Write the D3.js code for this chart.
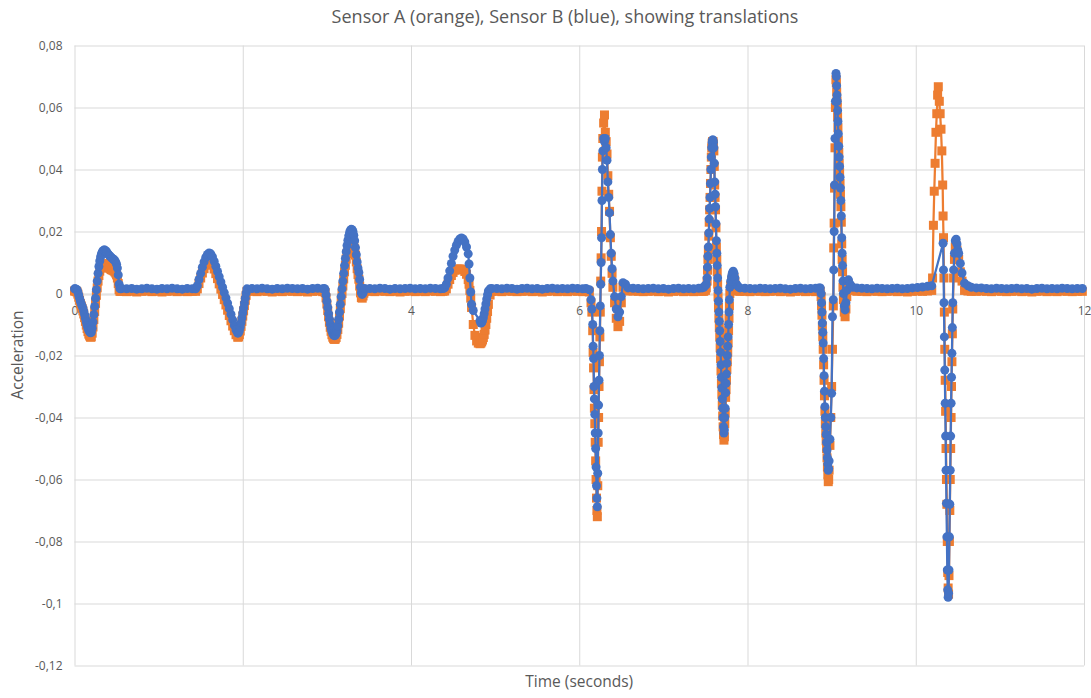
<!DOCTYPE html>
<html>
<head>
<meta charset="utf-8">
<script src="https://cdn.jsdelivr.net/npm/d3@7"></script>
<style>
  body { margin: 0; background: #ffffff; }
  text { font-family: "Open Sans", "Liberation Sans", sans-serif; }
</style>
</head>
<body>
<div id="chart"></div>
<script>
// sample times (seconds), shared by both sensors
var time = [
  // bump 1
  0.00, 0.01, 0.02, 0.03, 0.04, 0.05, 0.06, 0.07, 0.08, 0.09,
  0.10, 0.11, 0.12, 0.13, 0.14, 0.15, 0.16, 0.17, 0.18, 0.19,
  0.20, 0.21, 0.22, 0.23, 0.24, 0.25, 0.26, 0.27, 0.28, 0.29,
  0.30, 0.31, 0.32, 0.33, 0.34, 0.35, 0.36, 0.37, 0.38, 0.39,
  0.40, 0.41, 0.42, 0.43, 0.44, 0.45, 0.46, 0.47, 0.48, 0.49,
  0.50, 0.51, 0.52, 0.53, 0.54, 0.55, 0.56,
  0.62, 0.68, 0.74, 0.80, 0.86, 0.92, 0.98, 1.04, 1.10, 1.16, 1.22, 1.28, 1.34, 1.40,
  // bump 2
  1.44, 1.46, 1.48, 1.50, 1.52, 1.54, 1.56, 1.58, 1.60, 1.62,
  1.64, 1.66, 1.68, 1.70, 1.72, 1.74, 1.76, 1.78, 1.80, 1.82,
  1.84, 1.86, 1.88, 1.90, 1.92, 1.94,
  1.95, 1.96, 1.97, 1.98, 1.99, 2.00, 2.01, 2.02, 2.03, 2.04, 2.05,
  2.11, 2.17, 2.23, 2.29, 2.35, 2.41, 2.47, 2.53, 2.59, 2.65, 2.71, 2.77, 2.83, 2.89, 2.95,
  // bump 3
  2.97, 2.98, 2.99, 3.00, 3.01, 3.02, 3.03, 3.04, 3.05, 3.06,
  3.07, 3.08, 3.09, 3.10, 3.11, 3.12, 3.13, 3.14, 3.15, 3.16,
  3.17, 3.18, 3.19, 3.20, 3.21, 3.22, 3.23, 3.24, 3.25, 3.26,
  3.27, 3.28, 3.29, 3.30, 3.31, 3.32, 3.33, 3.34, 3.35, 3.36,
  3.37, 3.38, 3.39, 3.40, 3.41, 3.42, 3.43, 3.44, 3.45,
  3.51, 3.57, 3.63, 3.69, 3.75, 3.81, 3.87, 3.93, 3.99, 4.05, 4.11, 4.17, 4.23, 4.29, 4.35,
  // bump 4
  4.38, 4.40, 4.42, 4.44, 4.46, 4.48, 4.50, 4.52, 4.54, 4.56,
  4.58, 4.60, 4.62, 4.64, 4.66, 4.68, 4.69, 4.70, 4.71, 4.72,
  4.74, 4.76, 4.78, 4.80, 4.82, 4.83, 4.84, 4.85, 4.86, 4.87,
  4.88, 4.89, 4.90, 4.91, 4.92, 4.94, 4.96,
  5.02, 5.08, 5.14, 5.20, 5.26, 5.32, 5.38, 5.44, 5.50, 5.56, 5.62, 5.68, 5.74, 5.80, 5.86, 5.92, 5.98, 6.04, 6.08,
  // spike 1
  6.12, 6.14, 6.15, 6.16, 6.165, 6.17, 6.175, 6.18, 6.185, 6.19, 6.195, 6.20, 6.205, 6.21, 6.215,
  6.22, 6.225, 6.23, 6.235, 6.24, 6.245, 6.25, 6.255, 6.26, 6.265, 6.27, 6.275, 6.28, 6.29, 6.30,
  6.31, 6.32, 6.33, 6.34, 6.35, 6.36, 6.37, 6.38, 6.39, 6.40, 6.42, 6.44, 6.46, 6.48, 6.50, 6.52, 6.55, 6.58,
  6.64, 6.70, 6.76, 6.82, 6.88, 6.94, 7.00, 7.06, 7.12, 7.18, 7.24, 7.30, 7.36, 7.42, 7.46,
  // spike 2
  7.48, 7.50, 7.51, 7.52, 7.525, 7.53, 7.535, 7.54, 7.545, 7.55,
  7.555, 7.56, 7.565, 7.57, 7.575, 7.58, 7.585, 7.59, 7.595, 7.60,
  7.605, 7.61, 7.615, 7.62, 7.625, 7.63, 7.635, 7.64, 7.645, 7.65,
  7.655, 7.66, 7.665, 7.67, 7.675, 7.68, 7.685, 7.69, 7.695, 7.70,
  7.705, 7.71, 7.715, 7.72, 7.725, 7.73, 7.735, 7.74, 7.745, 7.75,
  7.755, 7.76, 7.765, 7.77, 7.775, 7.78, 7.785, 7.79, 7.80, 7.81,
  7.82, 7.83, 7.84, 7.85, 7.87, 7.89, 7.91,
  7.97, 8.03, 8.09, 8.15, 8.21, 8.27, 8.33, 8.39, 8.45, 8.51, 8.57, 8.63, 8.69, 8.75, 8.81,
  // spike 3
  8.85, 8.865, 8.875, 8.88, 8.885, 8.89, 8.895, 8.90, 8.905, 8.91,
  8.915, 8.92, 8.925, 8.93, 8.935, 8.94, 8.945, 8.95, 8.955, 8.96,
  8.965, 8.97, 8.98, 8.99, 9.00, 9.01, 9.02, 9.025, 9.03, 9.035,
  9.04, 9.045, 9.052, 9.056, 9.06, 9.064, 9.067, 9.071, 9.075, 9.08,
  9.085, 9.09, 9.095, 9.10, 9.105, 9.11, 9.115, 9.12, 9.125, 9.13,
  9.135, 9.14, 9.15, 9.16, 9.17, 9.18, 9.19, 9.20, 9.22, 9.25, 9.30,
  9.36, 9.42, 9.48, 9.54, 9.60, 9.66, 9.72, 9.78, 9.84, 9.90, 9.96, 10.02, 10.08, 10.14,
  // spike 4
  10.19, 10.20, 10.21, 10.22, 10.23, 10.24, 10.25, 10.26, 10.268, 10.28, 10.29, 10.30, 10.31, 10.32, 10.325,
  10.33, 10.335, 10.34, 10.345, 10.35, 10.355, 10.36, 10.365, 10.37, 10.375, 10.38, 10.385, 10.39, 10.395, 10.40, 10.405, 10.41, 10.415, 10.42, 10.425, 10.43, 10.435, 10.44,
  10.45, 10.46, 10.47, 10.48, 10.49, 10.50, 10.51, 10.53, 10.55, 10.58, 10.62, 10.66, 10.72,
  10.78, 10.84, 10.90, 10.96, 11.02, 11.08, 11.14, 11.20, 11.26, 11.32, 11.38, 11.44, 11.50, 11.56, 11.62, 11.68, 11.74, 11.80, 11.86, 11.92, 11.98
];

// Sensor A (orange)
var sensorA = [
  0.0008, 0.0008, 0.0007, 0.0005, -0.0002, -0.0012, -0.0022, -0.0032, -0.0040, -0.0048,
  -0.0056, -0.0066, -0.0078, -0.0090, -0.0102, -0.0113, -0.0123, -0.0131, -0.0137, -0.0141,
  -0.0140, -0.0128, -0.0108, -0.0084, -0.0058, -0.0032, -0.0006, 0.0018, 0.0040, 0.0058,
  0.0072, 0.0082, 0.0089, 0.0093, 0.0095, 0.0096, 0.0096, 0.0094, 0.0091, 0.0088,
  0.0085, 0.0083, 0.0081, 0.0079, 0.0077, 0.0076, 0.0075, 0.0073, 0.0070, 0.0066,
  0.0060, 0.0050, 0.0032, 0.0012, 0.0007, 0.0007, 0.0008,
  0.0006, 0.0007, 0.0005, 0.0007, 0.0008, 0.0006, 0.0007, 0.0005, 0.0007, 0.0008, 0.0006, 0.0007, 0.0006, 0.0007,
  0.0007, 0.0015, 0.0032, 0.0050, 0.0066, 0.0080, 0.0092, 0.0100, 0.0104, 0.0101,
  0.0092, 0.0079, 0.0064, 0.0048, 0.0031, 0.0014, -0.0003, -0.0020, -0.0037, -0.0054,
  -0.0071, -0.0088, -0.0105, -0.0120, -0.0133, -0.0141,
  -0.0140, -0.0133, -0.0121, -0.0106, -0.0090, -0.0073, -0.0056, -0.0039, -0.0022, -0.0006, 0.0007,
  0.0007, 0.0006, 0.0008, 0.0007, 0.0005, 0.0007, 0.0006, 0.0008, 0.0007, 0.0006, 0.0007, 0.0005, 0.0007, 0.0008, 0.0006,
  0.0007, 0.0003, -0.0014, -0.0034, -0.0055, -0.0075, -0.0093, -0.0109, -0.0122, -0.0133,
  -0.0141, -0.0146, -0.0148, -0.0147, -0.0142, -0.0132, -0.0116, -0.0096, -0.0073, -0.0049,
  -0.0024, 0.0000, 0.0024, 0.0047, 0.0070, 0.0091, 0.0111, 0.0129, 0.0144, 0.0157,
  0.0167, 0.0174, 0.0177, 0.0176, 0.0171, 0.0160, 0.0144, 0.0124, 0.0102, 0.0080,
  0.0061, 0.0046, 0.0024, 0.0002, -0.0013, -0.0015, -0.0008, 0.0001, 0.0007,
  0.0007, 0.0006, 0.0008, 0.0007, 0.0006, 0.0007, 0.0005, 0.0007, 0.0008, 0.0006, 0.0007, 0.0006, 0.0008, 0.0007, 0.0006,
  0.0007, 0.0008, 0.0015, 0.0030, 0.0045, 0.0058, 0.0068, 0.0075, 0.0078, 0.0079,
  0.0079, 0.0078, 0.0076, 0.0071, 0.0062, 0.0045, 0.0030, 0.0010, -0.0015, -0.0045,
  -0.0100, -0.0135, -0.0153, -0.0160, -0.0162, -0.0160, -0.0156, -0.0150, -0.0142, -0.0132,
  -0.0118, -0.0100, -0.0080, -0.0058, -0.0035, -0.0005, 0.0007,
  0.0007, 0.0006, 0.0008, 0.0007, 0.0006, 0.0007, 0.0008, 0.0006, 0.0007, 0.0005, 0.0007, 0.0008, 0.0006, 0.0007, 0.0006, 0.0008, 0.0007, 0.0006, 0.0007,
  0.0005, -0.003, -0.006, -0.012, -0.019, -0.024, -0.031, -0.037, -0.042, -0.048, -0.054, -0.060, -0.066, -0.070, -0.072,
  -0.062, -0.048, -0.040, -0.030, -0.022, -0.014, -0.006, 0.004, 0.0115, 0.020, 0.033, 0.044, 0.050, 0.055, 0.0576,
  0.052, 0.049, 0.045, 0.038, 0.032, 0.0265, 0.018, 0.012, 0.0065, 0.002, -0.003, -0.008, -0.0107, -0.009, -0.003, 0.002, 0.0015, 0.0008,
  0.0008, 0.0007, 0.0006, 0.0007, 0.0008, 0.0006, 0.0007, 0.0005, 0.0007, 0.0008, 0.0006, 0.0007, 0.0006, 0.0008, 0.0007,
  0.0007, 0.0010, 0.0018, 0.0040, 0.0075, 0.0110, 0.0140, 0.0185, 0.0230, 0.0270,
  0.0310, 0.0355, 0.0400, 0.0440, 0.0470, 0.0485, 0.0490, 0.0490, 0.0482, 0.0460,
  0.0410, 0.0350, 0.0310, 0.0270, 0.0212, 0.0150, 0.0110, 0.0070, 0.0030, -0.0010,
  -0.0045, -0.0080, -0.0110, -0.0140, -0.0175, -0.0210, -0.0250, -0.0290, -0.0325, -0.0360,
  -0.0395, -0.0430, -0.0455, -0.0473, -0.0462, -0.0420, -0.0385, -0.0335, -0.0310, -0.0280,
  -0.0245, -0.0220, -0.0190, -0.0160, -0.0120, -0.0080, -0.0040, 0.0000, 0.0025, 0.0040,
  0.0050, 0.0055, 0.0050, 0.0038, 0.0015, 0.0008, 0.0007,
  0.0007, 0.0006, 0.0008, 0.0007, 0.0006, 0.0007, 0.0008, 0.0006, 0.0007, 0.0005, 0.0007, 0.0008, 0.0006, 0.0007, 0.0006,
  0.0007, 0.0007, -0.0010, -0.0040, -0.0070, -0.0105, -0.0140, -0.0180, -0.0230, -0.0280,
  -0.0330, -0.0380, -0.0420, -0.0450, -0.0475, -0.0500, -0.0530, -0.0560, -0.0585, -0.0607,
  -0.0600, -0.0570, -0.0490, -0.0400, -0.0300, -0.0180, -0.0040, 0.0147, 0.0227, 0.0340,
  0.0470, 0.0600, 0.0690, 0.0680, 0.0650, 0.0620, 0.0600, 0.0570, 0.0535, 0.0495,
  0.0455, 0.0420, 0.0390, 0.0355, 0.0320, 0.0280, 0.0230, 0.0160, 0.0110, 0.0070,
  0.0020, -0.0020, -0.0060, -0.0075, -0.0050, -0.0010, 0.0025, 0.0030, 0.0020, 0.0010, 0.0007,
  0.0007, 0.0006, 0.0008, 0.0007, 0.0006, 0.0007, 0.0008, 0.0006, 0.0007, 0.0005, 0.0007, 0.0008, 0.0007, 0.0008,
  0.001, 0.005, 0.022, 0.033, 0.042, 0.052, 0.058, 0.064, 0.0667, 0.062, 0.058, 0.053, 0.046, 0.035, 0.025,
  0.018, 0.005, -0.006, -0.018, -0.028, -0.038, -0.050, -0.060, -0.068, -0.080, -0.090, -0.095, -0.097, -0.091, -0.080, -0.070, -0.060, -0.050, -0.040, -0.030, -0.022, -0.013, -0.005,
  0.005, 0.011, 0.015, 0.0155, 0.014, 0.012, 0.011, 0.007, 0.004, 0.001, 0.0008, 0.0007, 0.0007,
  0.0008, 0.0007, 0.0006, 0.0008, 0.0007, 0.0006, 0.0007, 0.0008, 0.0006, 0.0007, 0.0005, 0.0007, 0.0008, 0.0006, 0.0007, 0.0006, 0.0008, 0.0007, 0.0006, 0.0007, 0.0007
];

// Sensor B (blue); null = no sample
var sensorB = [
  0.0015, 0.0015, 0.0014, 0.0012, 0.0005, -0.0005, -0.0015, -0.0025, -0.0033, -0.0040,
  -0.0047, -0.0057, -0.0068, -0.0080, -0.0092, -0.0103, -0.0112, -0.0119, -0.0124, -0.0127,
  -0.0125, -0.0112, -0.0092, -0.0068, -0.0042, -0.0015, 0.0012, 0.0040, 0.0065, 0.0087,
  0.0105, 0.0118, 0.0128, 0.0134, 0.0138, 0.0140, 0.0140, 0.0138, 0.0135, 0.0131,
  0.0127, 0.0124, 0.0121, 0.0118, 0.0115, 0.0113, 0.0111, 0.0109, 0.0106, 0.0101,
  0.0094, 0.0082, 0.0060, 0.0030, 0.0016, 0.0015, 0.0016,
  0.0015, 0.0016, 0.0014, 0.0015, 0.0017, 0.0015, 0.0014, 0.0016, 0.0015, 0.0017, 0.0015, 0.0014, 0.0016, 0.0015,
  0.0015, 0.0025, 0.0045, 0.0065, 0.0085, 0.0102, 0.0116, 0.0126, 0.0131, 0.0128,
  0.0118, 0.0104, 0.0088, 0.0071, 0.0054, 0.0037, 0.0020, 0.0003, -0.0014, -0.0031,
  -0.0049, -0.0067, -0.0085, -0.0103, -0.0118, -0.0128,
  -0.0127, -0.0120, -0.0108, -0.0094, -0.0079, -0.0063, -0.0047, -0.0031, -0.0015, 0.0002, 0.0015,
  0.0016, 0.0015, 0.0017, 0.0015, 0.0014, 0.0016, 0.0015, 0.0017, 0.0016, 0.0015, 0.0016, 0.0014, 0.0016, 0.0017, 0.0015,
  0.0016, 0.0012, -0.0005, -0.0025, -0.0045, -0.0065, -0.0083, -0.0099, -0.0112, -0.0122,
  -0.0129, -0.0134, -0.0136, -0.0135, -0.0130, -0.0120, -0.0104, -0.0083, -0.0060, -0.0035,
  -0.0010, 0.0015, 0.0040, 0.0065, 0.0090, 0.0113, 0.0135, 0.0155, 0.0172, 0.0186,
  0.0197, 0.0204, 0.0207, 0.0206, 0.0200, 0.0188, 0.0170, 0.0148, 0.0125, 0.0102,
  0.0082, 0.0068, 0.0045, 0.0020, 0.0002, -0.0003, 0.0002, 0.0010, 0.0016,
  0.0016, 0.0015, 0.0017, 0.0016, 0.0014, 0.0016, 0.0015, 0.0016, 0.0017, 0.0015, 0.0016, 0.0015, 0.0017, 0.0016, 0.0015,
  0.0016, 0.0018, 0.0030, 0.0050, 0.0073, 0.0097, 0.0120, 0.0140, 0.0156, 0.0168,
  0.0176, 0.0179, 0.0176, 0.0166, 0.0150, 0.0128, 0.0095, 0.0050, 0.0005, -0.0035,
  -0.0055, null, null, null, -0.0088, -0.0095, -0.0094, -0.0088, -0.0078, -0.0065,
  -0.0050, -0.0034, -0.0018, -0.0004, 0.0008, 0.0015, 0.0016,
  0.0016, 0.0015, 0.0017, 0.0016, 0.0014, 0.0016, 0.0017, 0.0015, 0.0016, 0.0014, 0.0016, 0.0017, 0.0015, 0.0016, 0.0015, 0.0017, 0.0016, 0.0015, 0.0016,
  0.0012, -0.002, -0.005, -0.010, -0.017, -0.021, -0.030, -0.034, -0.039, -0.045, -0.050, -0.056, -0.062, -0.066, -0.0688,
  -0.058, -0.045, -0.036, -0.028, -0.020, -0.012, -0.004, 0.003, 0.010, 0.018, 0.030, 0.040, 0.046, 0.050, 0.049,
  0.050, 0.047, 0.043, 0.036, 0.031, 0.026, 0.019, 0.013, 0.008, 0.004, -0.001, -0.005, -0.0075, -0.006, -0.001, 0.0035, 0.003, 0.0018,
  0.0017, 0.0016, 0.0015, 0.0016, 0.0017, 0.0015, 0.0016, 0.0014, 0.0016, 0.0017, 0.0015, 0.0016, 0.0015, 0.0017, 0.0018,
  0.0020, 0.0026, 0.0030, 0.0050, 0.0085, 0.0120, 0.0150, 0.0195, 0.0240, 0.0275,
  0.0310, 0.0355, 0.0400, 0.0440, 0.0470, 0.0488, 0.0495, 0.0495, 0.0488, 0.0470,
  0.0420, 0.0360, 0.0320, 0.0280, 0.0225, 0.0170, 0.0130, 0.0090, 0.0050, 0.0010,
  -0.0025, -0.0060, -0.0090, -0.0120, -0.0155, -0.0190, -0.0230, -0.0270, -0.0305, -0.0340,
  -0.0370, -0.0400, -0.0430, -0.0450, -0.0440, -0.0400, -0.0370, -0.0320, -0.0290, -0.0260,
  -0.0225, -0.0200, -0.0170, -0.0140, -0.0100, -0.0060, -0.0020, 0.0020, 0.0040, 0.0055,
  0.0066, 0.0072, 0.0065, 0.0050, 0.0030, 0.0022, 0.0018,
  0.0017, 0.0016, 0.0015, 0.0017, 0.0016, 0.0015, 0.0016, 0.0017, 0.0015, 0.0014, 0.0016, 0.0017, 0.0015, 0.0016, 0.0017,
  0.0018, 0.0018, 0.0000, -0.0030, -0.0060, -0.0095, -0.0125, -0.0160, -0.0210, -0.0265,
  -0.0315, -0.0365, -0.0400, -0.0430, -0.0455, -0.0480, -0.0505, -0.0530, -0.0550, -0.0570,
  -0.0565, -0.0540, -0.0470, -0.0400, -0.0322, -0.0075, -0.0020, 0.0076, 0.0200, 0.0350,
  0.0500, 0.0620, 0.0710, 0.0700, 0.0670, 0.0640, 0.0620, 0.0590, 0.0555, 0.0515,
  0.0475, 0.0440, 0.0410, 0.0375, 0.0340, 0.0300, 0.0250, 0.0180, 0.0130, 0.0090,
  0.0040, 0.0000, -0.0040, -0.0053, -0.0030, 0.0010, 0.0040, 0.0044, 0.0030, 0.0020, 0.0018,
  0.0017, 0.0016, 0.0015, 0.0017, 0.0016, 0.0015, 0.0016, 0.0017, 0.0015, 0.0016, 0.0018, 0.0019, 0.0021, 0.0023,
  0.0025, null, null, null, null, null, null, null, null, null, null, null, null, null, 0.0162,
  0.0076, -0.003, -0.014, -0.0247, -0.0354, -0.046, -0.057, -0.0677, -0.0785, -0.0892, -0.0956, -0.098, -0.0967, -0.0892, -0.0785, -0.068, -0.057, -0.046, -0.0354, -0.027, -0.0193, -0.011, -0.003,
  0.0076, 0.013, 0.017, 0.0175, 0.016, 0.014, 0.013, 0.0097, 0.0066, 0.0033, 0.0025, 0.002, 0.0018,
  0.0018, 0.0016, 0.0015, 0.0017, 0.0016, 0.0015, 0.0016, 0.0017, 0.0015, 0.0016, 0.0014, 0.0016, 0.0017, 0.0015, 0.0016, 0.0015, 0.0017, 0.0016, 0.0015, 0.0016, 0.0016
];

var xTicks = [0, 2, 4, 6, 8, 10, 12];
var xTickLabels = ["0", "2", "4", "6", "8", "10", "12"];
var yTicks = [-0.12, -0.1, -0.08, -0.06, -0.04, -0.02, 0, 0.02, 0.04, 0.06, 0.08];
var yTickLabels = ["-0,12", "-0,1", "-0,08", "-0,06", "-0,04", "-0,02", "0", "0,02", "0,04", "0,06", "0,08"];

if (time.length !== sensorA.length || time.length !== sensorB.length) {
      throw new Error("length mismatch " + time.length + " " + sensorA.length + " " + sensorB.length);
}

var width = 1091;
var height = 698;
var plotLeft = 74.5, plotRight = 1084, plotTop = 45.5, plotBottom = 665.5;
var orange = "#ED7D31";
var blue = "#4472C4";
var gridColor = "#D9D9D9";
var textColor = "#595959";
var markerSize = 9;

var svg = d3.select("#chart").append("svg")
      .attr("width", width)
      .attr("height", height)
      .style("display", "block");

var xScale = d3.scaleLinear()
      .domain([0, 12])
      .range([plotLeft, plotRight]);
var yScale = d3.scaleLinear()
      .domain([-0.12, 0.08])
      .range([plotBottom, plotTop]);

// horizontal gridlines + y labels
var yAxis = d3.axisLeft(yScale)
      .tickValues(yTicks)
      .tickSize(-(plotRight - plotLeft))
      .tickPadding(12)
      .tickFormat((d, i) => yTickLabels[i]);
var yAxisGroup = svg.append("g")
      .attr("transform", "translate(" + plotLeft + ",0)")
      .call(yAxis);
yAxisGroup.select(".domain").remove();
yAxisGroup.selectAll("line").attr("stroke", gridColor);
yAxisGroup.selectAll("text")
      .attr("fill", textColor)
      .style("font-size", "12px")
      .style("font-family", "'Open Sans', sans-serif");

// vertical gridlines
var xGrid = d3.axisBottom(xScale)
      .tickValues(xTicks)
      .tickSize(-(plotBottom - plotTop))
      .tickFormat("");
var xGridGroup = svg.append("g")
      .attr("transform", "translate(0," + plotBottom + ")")
      .call(xGrid);
xGridGroup.select(".domain").remove();
xGridGroup.selectAll("line").attr("stroke", gridColor);

// x labels sit on the zero line
var xAxis = d3.axisBottom(xScale)
      .tickValues(xTicks)
      .tickSize(0)
      .tickPadding(12)
      .tickFormat((d, i) => xTickLabels[i]);
var xAxisGroup = svg.append("g")
      .attr("transform", "translate(0," + Math.round(yScale(0)) + ".5)")
      .call(xAxis);
xAxisGroup.select(".domain").attr("stroke", gridColor);
xAxisGroup.selectAll("text")
      .attr("fill", textColor)
      .style("font-size", "12px")
      .style("font-family", "'Open Sans', sans-serif");

// title + axis titles
svg.append("text")
      .attr("x", 565)
      .attr("y", 23)
      .attr("text-anchor", "middle")
      .attr("fill", textColor)
      .style("font-size", "18px")
      .text("Sensor A (orange), Sensor B (blue), showing translations");

svg.append("text")
      .attr("x", (plotLeft + plotRight) / 2)
      .attr("y", 687)
      .attr("text-anchor", "middle")
      .attr("fill", textColor)
      .style("font-size", "15.5px")
      .text("Time (seconds)");

svg.append("text")
      .attr("transform", "rotate(-90)")
      .attr("x", -355)
      .attr("y", 23)
      .attr("text-anchor", "middle")
      .attr("fill", textColor)
      .style("font-size", "15.5px")
      .text("Acceleration");

// series
var pointsA = time.map((t, i) => ({ t: t, v: sensorA[i] })).filter(d => d.v != null);
var pointsB = time.map((t, i) => ({ t: t, v: sensorB[i] })).filter(d => d.v != null);

var line = d3.line()
      .x(d => xScale(d.t))
      .y(d => yScale(d.v));

svg.append("path")
      .attr("d", line(pointsA))
      .attr("fill", "none")
      .attr("stroke", orange)
      .attr("stroke-width", 2.25)
      .attr("stroke-linejoin", "round");
svg.append("g").selectAll("rect")
      .data(pointsA)
      .enter()
      .append("rect")
            .attr("x", d => xScale(d.t) - markerSize / 2)
            .attr("y", d => yScale(d.v) - markerSize / 2)
            .attr("width", markerSize)
            .attr("height", markerSize)
            .attr("fill", orange);

svg.append("path")
      .attr("d", line(pointsB))
      .attr("fill", "none")
      .attr("stroke", blue)
      .attr("stroke-width", 2.25)
      .attr("stroke-linejoin", "round");
svg.append("g").selectAll("circle")
      .data(pointsB)
      .enter()
      .append("circle")
            .attr("cx", d => xScale(d.t))
            .attr("cy", d => yScale(d.v))
            .attr("r", markerSize / 2)
            .attr("fill", blue);
</script>
</body>
</html>
